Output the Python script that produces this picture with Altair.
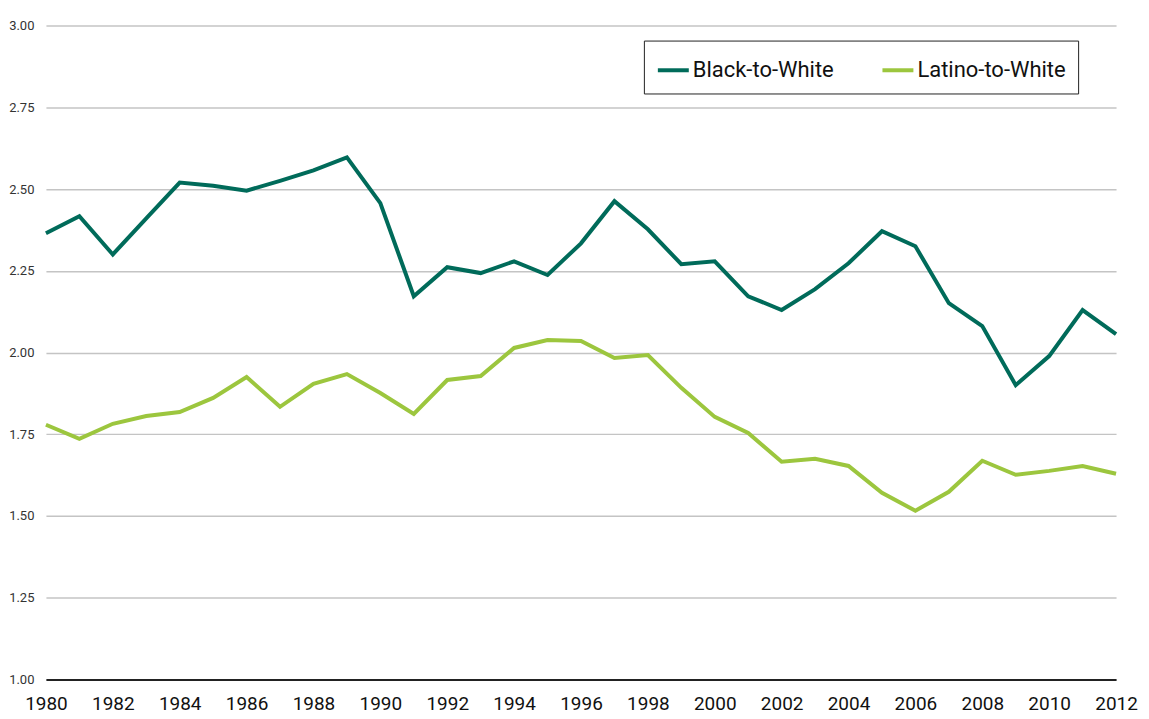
import altair as alt
import pandas as pd

years = list(range(1980, 2013))
black_to_white = [2.365, 2.417, 2.30, 2.41, 2.52, 2.51, 2.495, 2.525, 2.557, 2.597,
                  2.457, 2.172, 2.261, 2.243, 2.279, 2.237, 2.334, 2.463, 2.377, 2.27,
                  2.279, 2.172, 2.13, 2.194, 2.273, 2.371, 2.325, 2.151, 2.081, 1.90,
                  1.989, 2.13, 2.056]
latino_to_white = [1.779, 1.736, 1.782, 1.806, 1.818, 1.861, 1.925, 1.834, 1.904, 1.934,
                   1.876, 1.812, 1.916, 1.928, 2.014, 2.038, 2.035, 1.983, 1.992, 1.892,
                   1.803, 1.754, 1.666, 1.675, 1.653, 1.571, 1.516, 1.574, 1.669, 1.626,
                   1.638, 1.653, 1.629]
series_names = ["Black-to-White", "Latino-to-White"]
series_colors = ["#006b5a", "#9cc63e"]
x_ticks = list(range(1980, 2013, 2))
y_ticks = [1.00, 1.25, 1.50, 1.75, 2.00, 2.25, 2.50, 2.75, 3.00]

rows = []
for y, b, l in zip(years, black_to_white, latino_to_white):
    rows.append({"year": y, "series": series_names[0], "value": b})
    rows.append({"year": y, "series": series_names[1], "value": l})
df = pd.DataFrame(rows)

FONT = "Roboto"

chart = alt.Chart(df).mark_line(strokeWidth=4, strokeJoin="miter", strokeMiterLimit=4).encode(
    x=alt.X("year:Q",
            scale=alt.Scale(domain=[1980, 2012], nice=False, zero=False),
            axis=alt.Axis(values=x_ticks, format="d", title=None, grid=False,
                          ticks=False, tickSize=0, domain=True, domainColor="#222222",
                          domainWidth=2, labelFontSize=19, labelColor="#111111",
                          labelFont=FONT, labelPadding=15, labelFlush=False)),
    y=alt.Y("value:Q",
            scale=alt.Scale(domain=[1.0, 3.0], nice=False, zero=False),
            axis=alt.Axis(values=y_ticks, format=".2f", title=None, grid=True,
                          gridColor="#c4c4c4", gridWidth=1.5, domain=False,
                          ticks=False, tickSize=0, labelFontSize=13,
                          labelColor="#333333", labelFont=FONT, labelPadding=12)),
    color=alt.Color("series:N",
                    scale=alt.Scale(domain=series_names, range=series_colors),
                    legend=alt.Legend(title=None, orient="none", legendX=599, legendY=15,
                                      direction="horizontal", strokeColor="#222222",
                                      fillColor="white", padding=12,
                                      symbolType="stroke", symbolStrokeWidth=4,
                                      symbolSize=961, labelFontSize=22,
                                      labelFont=FONT, labelColor="#111111",
                                      labelOffset=2, columnPadding=40,
                                      labelLimit=400)),
).properties(
    width=1072, height=655,
    background="white",
    autosize=alt.AutoSizeParams(type="none"),
    padding={"left": 38, "top": 17, "right": 25, "bottom": 38},
).configure_view(strokeWidth=0, stroke="transparent")

chart.save("out.html", embed_options={"renderer": "svg", "actions": False})
